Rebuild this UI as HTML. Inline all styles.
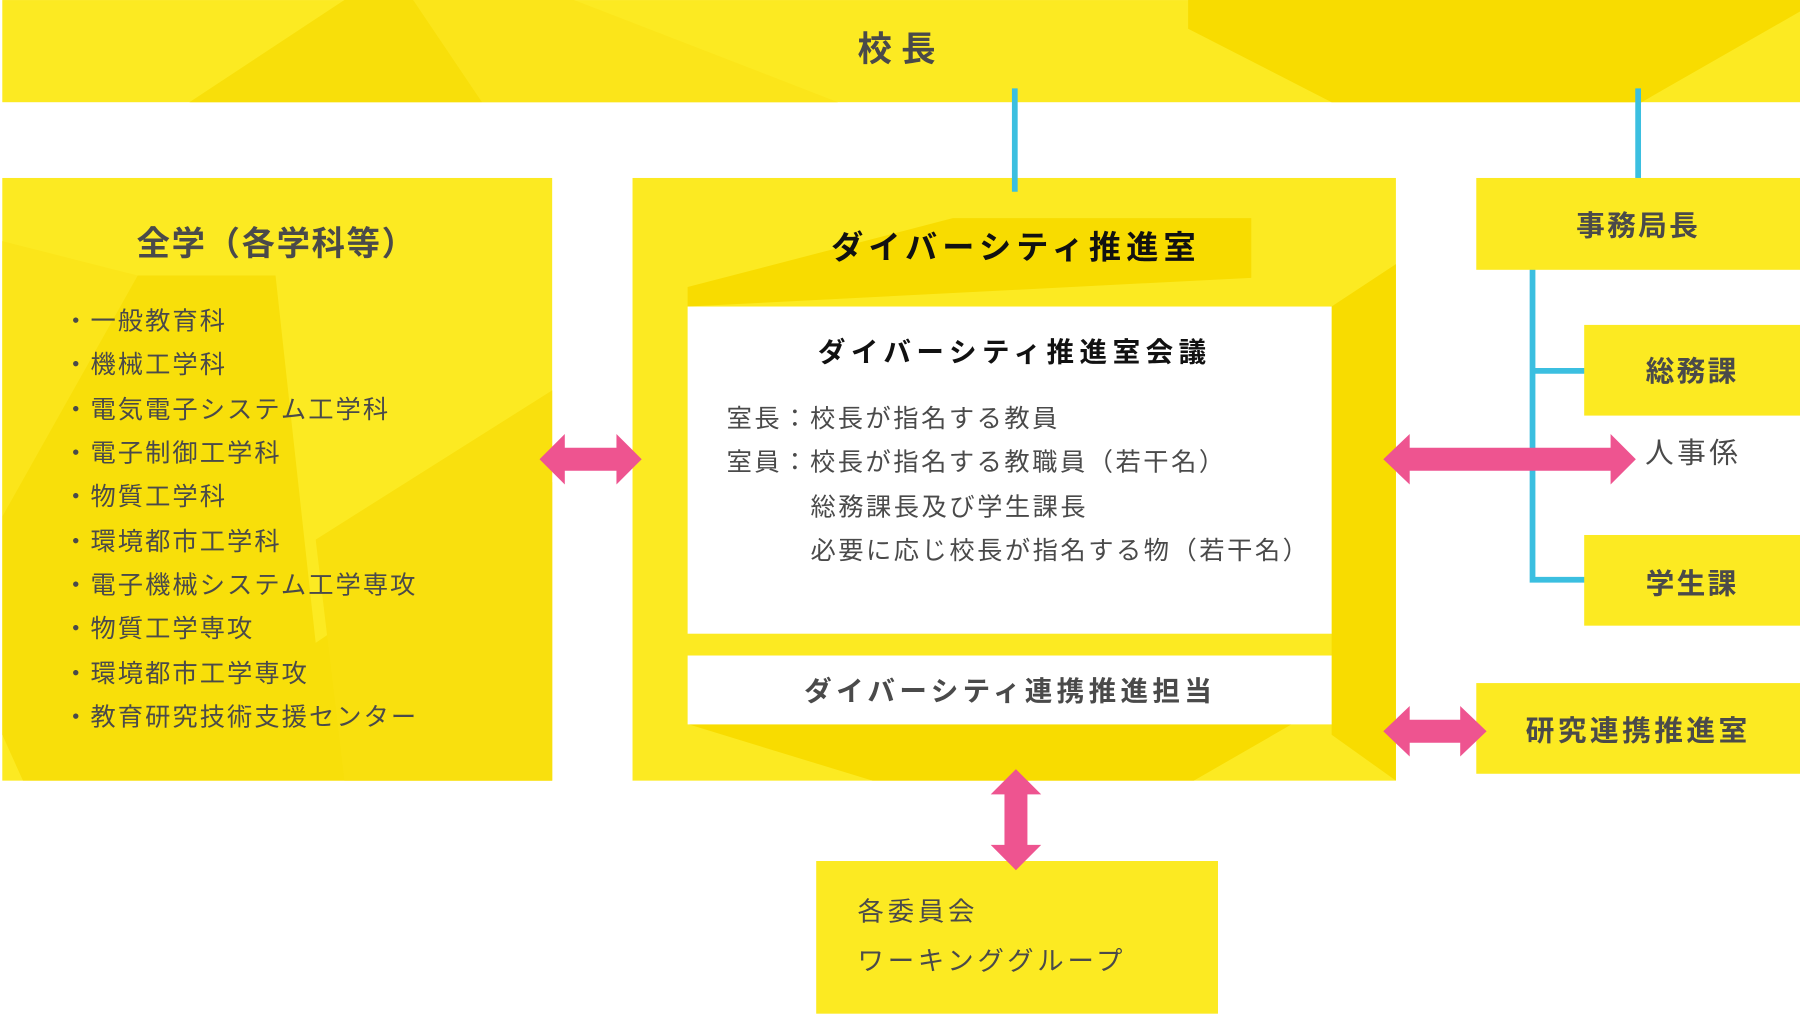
<!DOCTYPE html>
<html><head><meta charset="utf-8">
<style>
html,body{margin:0;padding:0;background:#fff;}
svg{display:block;}
text{font-family:"Liberation Sans","Noto Sans CJK JP",sans-serif;}
</style></head>
<body>
<svg width="1800" height="1019" viewBox="0 0 1568 887.6" xmlns="http://www.w3.org/2000/svg">
<!-- top bar -->
<rect x="2" y="0" width="1566" height="89" fill="#fcea22"/>
<polygon points="300,0 165,89 420,89 360,0" fill="#f8df0a"/>
<polygon points="360,0 420,89 730,89 500,0" fill="#fbe51a"/>
<polygon points="1035,0 1568,0 1568,10 1430,89 1160,89 1035,25" fill="#f8dc00"/>
<text x="785" y="53" font-size="30" font-weight="bold" fill="#4a4a4a" text-anchor="middle" letter-spacing="8">校長</text>

<!-- left box -->
<rect x="2" y="155" width="479" height="525" fill="#fcea22"/>
<polygon points="2,210 120,240 235,240 2,450" fill="#fbe51a"/>
<polygon points="120,240 240,240 275,560 481,420 481,680 20,680 2,640 2,450" fill="#f8df0a"/>
<polygon points="275,470 481,340 481,680 300,680" fill="#f9e00e"/>
<text x="241" y="222" font-size="29" font-weight="bold" fill="#4a4a4a" text-anchor="middle" letter-spacing="1.5">全学（各学科等）</text>
<g font-size="22" fill="#4a4a4a" letter-spacing="1.8">
<text x="55" y="287">・一般教育科</text>
<text x="55" y="325">・機械工学科</text>
<text x="55" y="364">・電気電子システム工学科</text>
<text x="55" y="402">・電子制御工学科</text>
<text x="55" y="440">・物質工学科</text>
<text x="55" y="479">・環境都市工学科</text>
<text x="55" y="517">・電子機械システム工学専攻</text>
<text x="55" y="555">・物質工学専攻</text>
<text x="55" y="594">・環境都市工学専攻</text>
<text x="55" y="632">・教育研究技術支援センター</text>
</g>

<!-- center box -->
<rect x="551" y="155" width="665" height="525" fill="#fcea22"/>
<polygon points="830,190 1090,190 1090,242 599,267 599,250" fill="#f8dc00"/>
<polygon points="1160,267 1216,230 1216,680 1160,640" fill="#f8dc00"/>
<polygon points="600,631 1125,631 1040,680 760,680" fill="#f8dc00"/>
<text x="885" y="225" font-size="28" font-weight="bold" fill="#111" text-anchor="middle" letter-spacing="4.5">ダイバーシティ推進室</text>
<rect x="599" y="267" width="561" height="285" fill="#fff"/>
<text x="884" y="315" font-size="24" font-weight="bold" fill="#111" text-anchor="middle" letter-spacing="4.8">ダイバーシティ推進室会議</text>
<g font-size="22" fill="#4a4a4a" letter-spacing="2.2">
<text x="633" y="372">室長：校長が指名する教員</text>
<text x="633" y="410">室員：校長が指名する教職員（若干名）</text>
<text x="706" y="449">総務課長及び学生課長</text>
<text x="706" y="487">必要に応じ校長が指名する物（若干名）</text>
</g>
<rect x="599" y="571" width="561" height="60" fill="#fff"/>
<text x="880" y="610" font-size="24" font-weight="bold" fill="#4a4a4a" text-anchor="middle" letter-spacing="3.8">ダイバーシティ連携推進担当</text>

<!-- blue lines -->
<g stroke="#3bbfe0" stroke-width="5" fill="none">
<line x1="884" y1="77" x2="884" y2="167"/>
<line x1="1427" y1="77" x2="1427" y2="167"/>
<polyline points="1335,224 1335,505 1392,505"/>
<line x1="1335" y1="323" x2="1392" y2="323"/>
</g>

<!-- right boxes -->
<rect x="1286" y="155" width="282" height="80" fill="#fcea22"/>
<text x="1427" y="205" font-size="25" font-weight="bold" fill="#4a4a4a" text-anchor="middle" letter-spacing="2">事務局長</text>
<rect x="1380" y="283" width="188" height="79" fill="#fcea22"/>
<text x="1474" y="332" font-size="25" font-weight="bold" fill="#4a4a4a" text-anchor="middle" letter-spacing="2">総務課</text>
<text x="1433" y="403" font-size="25" fill="#4a4a4a" letter-spacing="3">人事係</text>
<rect x="1380" y="466" width="188" height="79" fill="#fcea22"/>
<text x="1474" y="517" font-size="25" font-weight="bold" fill="#4a4a4a" text-anchor="middle" letter-spacing="2">学生課</text>
<rect x="1286" y="595" width="282" height="79" fill="#fcea22"/>
<text x="1427" y="645" font-size="25" font-weight="bold" fill="#4a4a4a" text-anchor="middle" letter-spacing="3">研究連携推進室</text>

<!-- bottom box -->
<rect x="711" y="750" width="350" height="133" fill="#fcea22"/>
<text x="747" y="802" font-size="23" fill="#4a4a4a" letter-spacing="3.3">各委員会</text>
<text x="747" y="845" font-size="23" fill="#4a4a4a" letter-spacing="3.3">ワーキンググループ</text>

<!-- pink arrows -->
<g fill="#ee5490">
<polygon points="470,400 492,378 492,390 537,390 537,378 559,400 537,422 537,410 492,410 492,422"/>
<polygon points="1205,400 1228,378 1228,390 1403,390 1403,378 1425,400 1403,422 1403,410 1228,410 1228,422"/>
<polygon points="1205,637 1228,615 1228,627 1272,627 1272,615 1295,637 1272,659 1272,647 1228,647 1228,659"/>
<polygon points="885,670 907,692 895,692 895,736 907,736 885,758 863,736 875,736 875,692 863,692"/>
</g>
</svg>
</body></html>
